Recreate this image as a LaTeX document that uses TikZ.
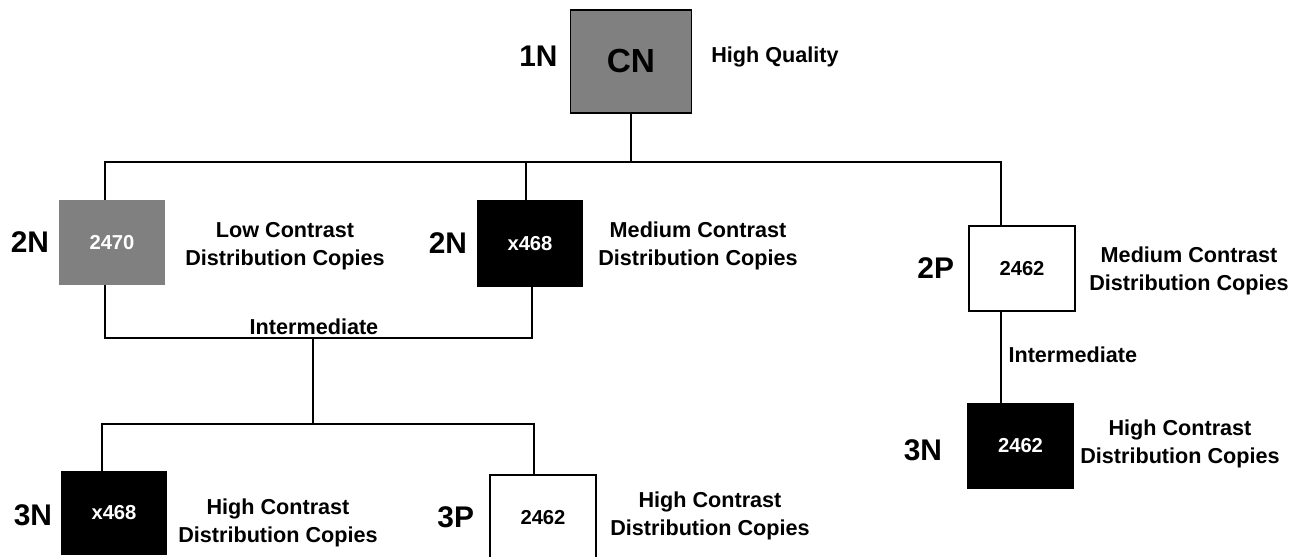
\documentclass[tikz,border=0pt]{standalone}
\usepackage{fontspec}
\setmainfont{Liberation Sans}
\usetikzlibrary{calc,positioning}
\definecolor{filmgray}{RGB}{128,128,128}

\begin{document}
\begin{tikzpicture}[x=0.2mm,y=-0.2mm,line width=0.6pt,
  film/.style={draw=black,inner sep=0pt,minimum width=21mm,minimum height=17mm,
    font=\fontsize{11.5}{13}\selectfont\bfseries},
  grayfilm/.style={film,fill=filmgray,draw=filmgray,text=white},
  darkfilm/.style={film,fill=black,text=white},
  lightfilm/.style={film,fill=white},
  gen/.style={font=\fontsize{17}{20}\selectfont\bfseries,inner sep=0pt},
  descr/.style={align=center,font=\fontsize{12.3}{15.9}\selectfont\bfseries,inner sep=0pt}]
\useasboundingbox (0,0) rectangle (1297,557);

\node[film,fill=filmgray,minimum width=24.2mm,minimum height=20.6mm,
  font=\fontsize{19}{22}\selectfont\bfseries] (cn) at (631,61.5) {CN};
\node[grayfilm,minimum width=20.8mm,minimum height=16.6mm] (b2470) at (112,242.5) {2470};
\node[darkfilm,minimum width=20.8mm] (b2x) at (530,243.5) {x468};
\node[lightfilm,minimum width=21.2mm] (b2p) at (1022,268.5) {2462};
\node[darkfilm,minimum height=16.8mm] (b3n) at (1020.5,446) {2462};
\node[darkfilm,minimum width=20.8mm,minimum height=16.4mm] (b3x) at (114,513) {x468};
\node[lightfilm,minimum width=21.2mm] (b3p) at (543,517.5) {2462};

\node[gen,left=2.4mm of cn,yshift=1mm] {1N};
\node[gen,left=2mm of b2470] {2N};
\node[gen,left=2mm of b2x] {2N};
\node[gen,left=2.8mm of b2p] {2P};
\node[gen,left=5mm of b3n,yshift=-0.8mm] {3N};
\node[gen,left=1.8mm of b3x,yshift=-0.4mm] {3N};
\node[gen,left=3mm of b3p] {3P};

\node[descr] (hq) at (775,57) {High Quality};
\node[descr] (lc) at (285,246) {Low Contrast\\Distribution Copies};
\node[descr] (mc1) at (698,246) {Medium Contrast\\Distribution Copies};
\node[descr] (mc2) at (1189,270.5) {Medium Contrast\\Distribution Copies};
\node[descr] (hc1) at (1180,444) {High Contrast\\Distribution Copies};
\node[descr] (hc2) at (278,523) {High Contrast\\Distribution Copies};
\node[descr] (hc3) at (710,516) {High Contrast\\Distribution Copies};

\coordinate (bus1) at (631,162);
\coordinate (bus2) at (313,338);
\coordinate (bus3) at (313,424);
\coordinate (t2470) at ($(b2470.north)+(-7,0)$);
\coordinate (d2470) at ($(b2470.south)+(-7,0)$);
\coordinate (t2x) at ($(b2x.north)+(-4,0)$);
\coordinate (d2x) at ($(b2x.south)+(2,0)$);
\coordinate (t2p) at ($(b2p.north)+(-21,0)$);
\coordinate (d2p) at ($(b2p.south)+(-21,0)$);
\coordinate (t3x) at ($(b3x.north)+(-12,0)$);
\coordinate (t3p) at ($(b3p.north)+(-9,0)$);

\draw (cn.south) -- (bus1);
\draw (t2470) |- (bus1) -| (t2p);
\draw (t2x) -- (t2x |- bus1);
\draw (d2470) |- (bus2) -| (d2x);
\draw (bus2) -- (bus3);
\draw (t3x) |- (bus3) -| (t3p);
\draw (d2p) -- (d2p |- b3n.north);

\node[descr] (im1) at (314,327) {Intermediate};
\node[descr,anchor=west] (im2) at (1008,355) {Intermediate};
\end{tikzpicture}
\end{document}
